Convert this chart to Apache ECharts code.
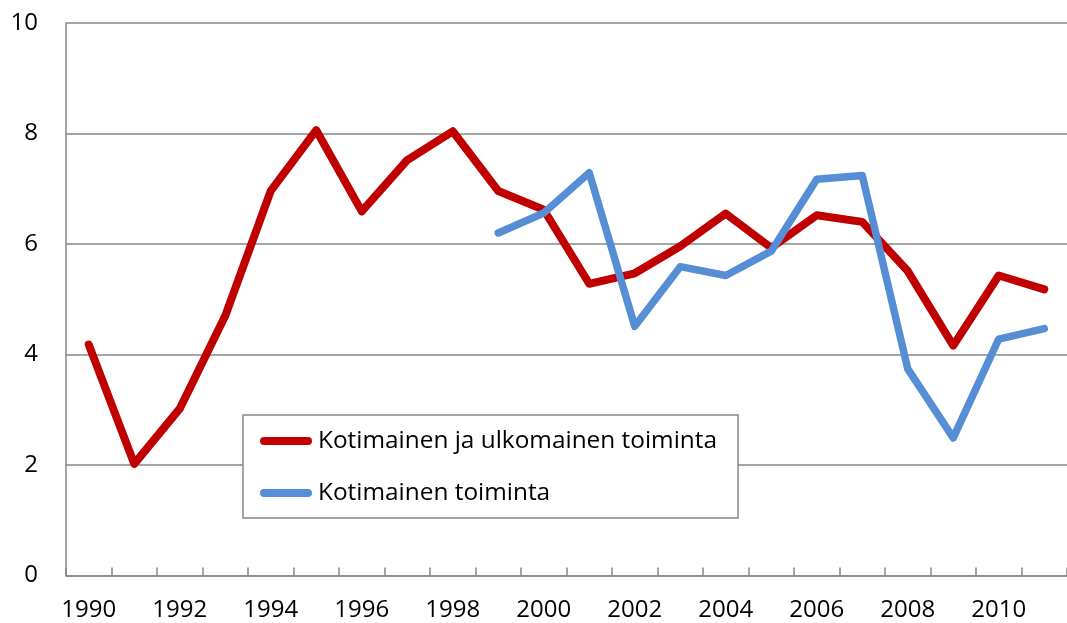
<!DOCTYPE html>
<html>
<head>
<meta charset="utf-8">
<script src="https://cdn.jsdelivr.net/npm/echarts@6/dist/echarts.min.js"></script>
<style>
html,body{margin:0;padding:0;background:#fff;}
#chart{width:1067px;height:623px;}
</style>
</head>
<body>
<div id="chart"></div>
<script>
const years = ['1990','1991','1992','1993','1994','1995','1996','1997','1998','1999','2000','2001','2002','2003','2004','2005','2006','2007','2008','2009','2010','2011'];
const seriesNames = ['Kotimainen ja ulkomainen toiminta', 'Kotimainen toiminta'];
const domesticAndForeign = [4.18, 2.02, 3.02, 4.70, 6.96, 8.06, 6.59, 7.52, 8.04, 6.96, 6.62, 5.28, 5.47, 5.96, 6.55, 5.93, 6.52, 6.40, 5.51, 4.16, 5.43, 5.18];
const domestic = [null, null, null, null, null, null, null, null, null, 6.20, 6.56, 7.29, 4.51, 5.59, 5.43, 5.87, 7.17, 7.24, 3.74, 2.49, 4.28, 4.47];
const yTicks = { min: 0, max: 10, interval: 2 };

const gray = '#878787';
const font = 'Open Sans';
const chart = echarts.init(document.getElementById('chart'));
const capsule = 'path://M4,0 L48,0 A4,4 0 0 1 48,8 L4,8 A4,4 0 0 1 4,0 Z';
chart.setOption({
  animation: false,
  textStyle: { fontFamily: font, color: '#000' },
  grid: { left: 66, top: 23, width: 1012, height: 552.5, containLabel: false },
  legend: {
    orient: 'vertical',
    left: 243, top: 415,
    padding: [11, 21, 10, 17],
    itemGap: 22,
    itemWidth: 52, itemHeight: 8,
    backgroundColor: '#fff',
    borderColor: gray, borderWidth: 1.5,
    textStyle: { fontFamily: font, fontSize: 24.4, color: '#000', lineHeight: 30, padding: [0,0,0,1] },
    data: [
      { name: seriesNames[0], icon: capsule },
      { name: seriesNames[1], icon: capsule }
    ]
  },
  xAxis: {
    type: 'category',
    data: years,
    boundaryGap: true,
    axisLine: { lineStyle: { color: gray, width: 1.5 } },
    axisTick: { show: true, inside: true, length: 8, interval: 0, lineStyle: { color: gray, width: 1.5 } },
    axisLabel: { interval: 1, fontFamily: font, fontSize: 24, color: '#000', margin: 23 },
    splitLine: { show: false }
  },
  yAxis: {
    type: 'value',
    min: yTicks.min, max: yTicks.max, interval: yTicks.interval,
    axisLine: { show: true, lineStyle: { color: gray, width: 1.5 } },
    axisTick: { show: false },
    axisLabel: { fontFamily: font, fontSize: 24, color: '#000', margin: 28 },
    splitLine: { show: true, lineStyle: { color: gray, width: 1.5 } }
  },
  series: [
    {
      name: seriesNames[0], type: 'line', data: domesticAndForeign,
      symbol: 'none', z: 2,
      color: '#C00000',
      lineStyle: { color: '#C00000', width: 8, cap: 'round', join: 'round' }
    },
    {
      name: seriesNames[1], type: 'line', data: domestic,
      symbol: 'none', z: 3,
      color: '#558ED5',
      lineStyle: { color: '#558ED5', width: 7.5, cap: 'round', join: 'round' }
    }
  ]
});
</script>
</body>
</html>
